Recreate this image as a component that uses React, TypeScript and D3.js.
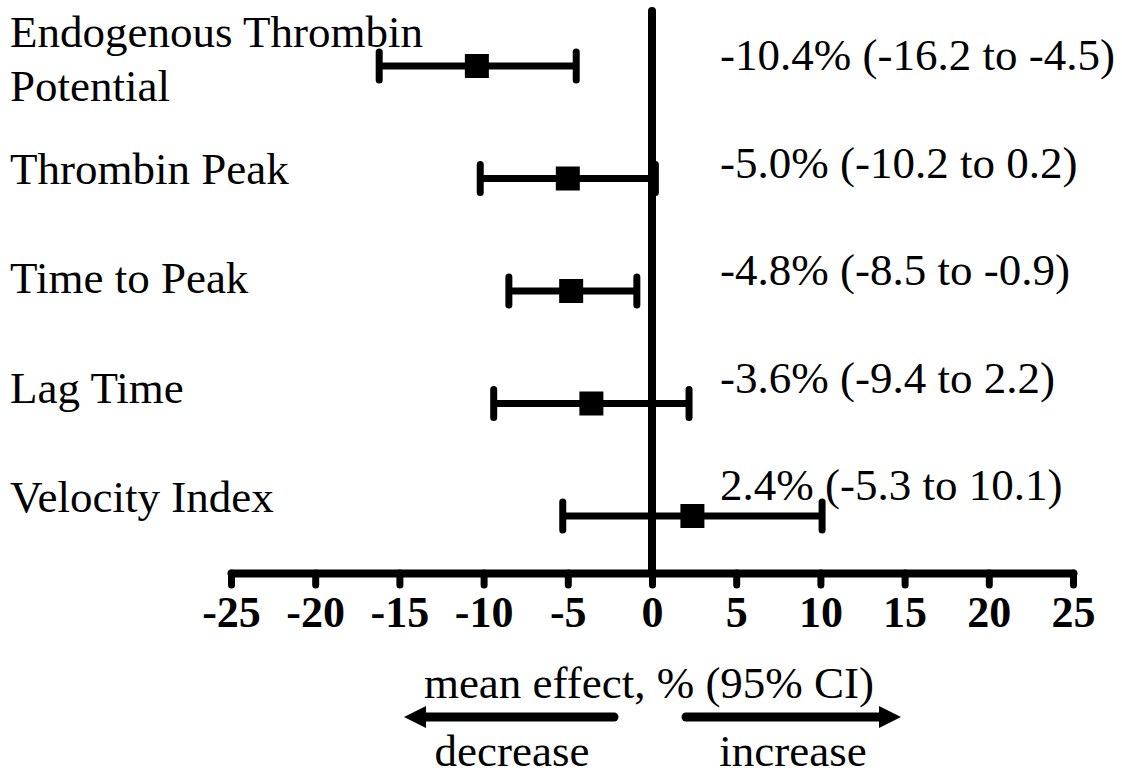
import React, {useEffect, useRef} from 'react';
import * as d3 from 'd3';

const labels: string[][] = [
  ['Endogenous Thrombin', 'Potential'],
  ['Thrombin Peak'],
  ['Time to Peak'],
  ['Lag Time'],
  ['Velocity Index'],
];
const means: number[] = [-10.4, -5.0, -4.8, -3.6, 2.4];
const lower: number[] = [-16.2, -10.2, -8.5, -9.4, -5.3];
const upper: number[] = [-4.5, 0.2, -0.9, 2.2, 10.1];
const xTicks: number[] = [-25, -20, -15, -10, -5, 0, 5, 10, 15, 20, 25];

const W = 1122;
const H = 776;
const FONT = '"Liberation Serif", "Times New Roman", serif';

export default function App() {
  const el = useRef<SVGSVGElement>(null);

  useEffect(() => {
    document.body.style.margin = '0';
    const svg = d3.select(el.current);
    svg.selectAll('*').remove();
    svg.append('rect').attr('width', W).attr('height', H).attr('fill', 'white');

    const idx = d3.range(means.length);
    const x = d3.scaleLinear().domain([-25, 25]).range([231, 1073]);
    const y = d3.scalePoint<number>().domain(idx).range([66, 516]);
    const yLabel = d3.scalePoint<number>().domain(idx).range([58, 496]);
    const yNote = d3.scalePoint<number>().domain(idx).range([70, 500]);
    const axisY = 573;
    const fmt = (v: number) => v.toFixed(1);

    // zero line
    svg.append('line')
      .attr('x1', x(0)).attr('x2', x(0))
      .attr('y1', 11).attr('y2', axisY)
      .attr('stroke', 'black').attr('stroke-width', 8).attr('stroke-linecap', 'round');

    // x axis
    const axis = d3.axisBottom(x)
      .tickValues(xTicks)
      .tickSize(12)
      .tickSizeOuter(0)
      .tickPadding(11)
      .tickFormat(d => String(d));
    const gx = svg.append('g').attr('transform', `translate(0,${axisY})`).call(axis);
    gx.select('.domain')
      .attr('stroke', 'black').attr('stroke-width', 8).attr('stroke-linecap', 'round');
    gx.selectAll('.tick line')
      .attr('stroke', 'black').attr('stroke-width', 7).attr('stroke-linecap', 'round');
    gx.selectAll('.tick text')
      .attr('fill', 'black')
      .style('font-family', FONT).style('font-size', '44px').style('font-weight', 'bold');

    // error bars
    const rows = svg.append('g').selectAll('g').data(idx).join('g');
    rows.append('line')
      .attr('x1', i => x(lower[i])).attr('x2', i => x(upper[i]))
      .attr('y1', i => y(i)!).attr('y2', i => y(i)!)
      .attr('stroke', 'black').attr('stroke-width', 7);
    [lower, upper].forEach(arr => {
      rows.append('line')
        .attr('x1', i => x(arr[i])).attr('x2', i => x(arr[i]))
        .attr('y1', i => y(i)! - 14).attr('y2', i => y(i)! + 14)
        .attr('stroke', 'black').attr('stroke-width', 7).attr('stroke-linecap', 'round');
    });
    rows.append('rect')
      .attr('x', i => x(means[i]) - 12).attr('y', i => y(i)! - 12)
      .attr('width', 24).attr('height', 24).attr('fill', 'black');

    // category labels
    const lab = svg.append('g').selectAll('text').data(idx).join('text')
      .attr('x', 10)
      .attr('fill', 'black')
      .style('font-family', FONT).style('font-size', '45px');
    lab.each(function (i) {
      const lines = labels[i];
      const start = yLabel(i)! + 16 - ((lines.length - 1) * 54) / 2;
      d3.select(this).selectAll('tspan').data(lines).join('tspan')
        .attr('x', 10)
        .attr('y', (_, k) => start + k * 54)
        .text(d => d);
    });

    // effect notes
    svg.append('g').selectAll('text').data(idx).join('text')
      .attr('x', 720).attr('y', i => yNote(i)!)
      .attr('fill', 'black')
      .style('font-family', FONT).style('font-size', '45px')
      .text(i => `${fmt(means[i])}% (${fmt(lower[i])} to ${fmt(upper[i])})`);

    // axis title
    svg.append('text')
      .attr('x', 649).attr('y', 698)
      .attr('text-anchor', 'middle').attr('fill', 'black')
      .style('font-family', FONT).style('font-size', '45px')
      .text('mean effect, % (95% CI)');

    // direction arrows
    const arrowY = 717;
    const arrow = (tail: number, tip: number) => {
      const dir = Math.sign(tip - tail);
      const headBase = tip - dir * 22;
      svg.append('line')
        .attr('x1', tail).attr('x2', headBase).attr('y1', arrowY).attr('y2', arrowY)
        .attr('stroke', 'black').attr('stroke-width', 9).attr('stroke-linecap', 'round');
      svg.append('path')
        .attr('d', `M${tip},${arrowY}L${headBase},${arrowY - 11}L${headBase},${arrowY + 11}Z`)
        .attr('fill', 'black');
    };
    arrow(614, 404);
    arrow(686, 901);

    svg.append('text')
      .attr('x', 512).attr('y', 766).attr('text-anchor', 'middle').attr('fill', 'black')
      .style('font-family', FONT).style('font-size', '45px').text('decrease');
    svg.append('text')
      .attr('x', 793).attr('y', 766).attr('text-anchor', 'middle').attr('fill', 'black')
      .style('font-family', FONT).style('font-size', '45px').text('increase');
  }, []);

  return (
    <div>
      <svg ref={el} width={W} height={H} style={{display: 'block'}} />
    </div>
  );
}
